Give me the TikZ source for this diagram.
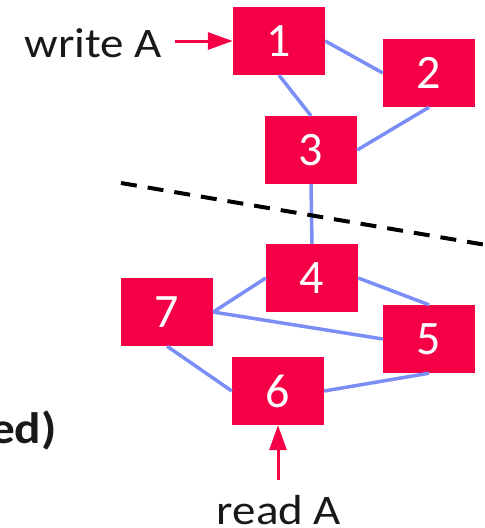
\documentclass[tikz,border=0pt]{standalone}
\usepackage{fontspec}
\setmainfont{Carlito}
\usetikzlibrary{arrows.meta}
\definecolor{boxred}{RGB}{245,0,70}
\definecolor{linkblue}{RGB}{122,142,245}
\newcommand{\widetext}[1]{\scalebox{1.12}[1]{#1}}

\begin{document}
\begin{tikzpicture}[x=1pt,y=-1pt,
    box/.style={fill=boxred, text=white, minimum width=92pt, minimum height=68pt,
        inner sep=0pt, font=\fontsize{48}{48}\selectfont},
    link/.style={draw=linkblue, line width=3.5pt},
    redarrow/.style={draw=boxred, line width=3pt, -{Triangle[length=25pt,width=17pt]}},
    lbl/.style={inner sep=0pt, text=black!90, font=\fontsize{42}{42}\selectfont}]
    \useasboundingbox (0,0) rectangle (485,528);
    \clip (0,0) rectangle (485,528);

    \node[box] (n1) at (279,41) {1};
    \node[box] (n2) at (429,73) {2};
    \node[box] (n3) at (311,150) {3};
    \node[box] (n4) at (312,278) {4};
    \node[box] (n5) at (429,339) {5};
    \node[box] (n6) at (278,391) {6};
    \node[box] (n7) at (167,312) {7};

    \draw[link] (n1.south) -- (n3.north);
    \draw[link] (n1.east) -- (n2.west);
    \draw[link] (n2.south) -- (n3.east);
    \draw[link] (n3.south) -- (n4.north);
    \draw[link] (n4.west) -- (n7.east);
    \draw[link] (n4.east) -- (n5.north);
    \draw[link] (n7.east) -- (n5.west);
    \draw[link] (n7.south) -- (n6.west);
    \draw[link] (n6.east) -- (n5.south);

    \coordinate (cutL) at (121,183);
    \coordinate (cutR) at (492,246);
    \draw[black, line width=4pt, dash pattern=on 16pt off 11pt] (cutL) -- (cutR);

    \node[lbl, anchor=base east] (wlbl) at (162,57) {\widetext{write A}};
    \coordinate (wsrc) at (175,41);
    \draw[redarrow] (wsrc) -- (n1.west);

    \node[lbl, anchor=base] (rlbl) at (279,524) {\widetext{read A}};
    \coordinate (rsrc) at (278,480);
    \draw[redarrow] (rsrc) -- (n6.south);

    \node[lbl, anchor=base east, font=\fontsize{44}{44}\selectfont\bfseries] (cut) at (57,443) {\widetext{ed)}};
\end{tikzpicture}
\end{document}
